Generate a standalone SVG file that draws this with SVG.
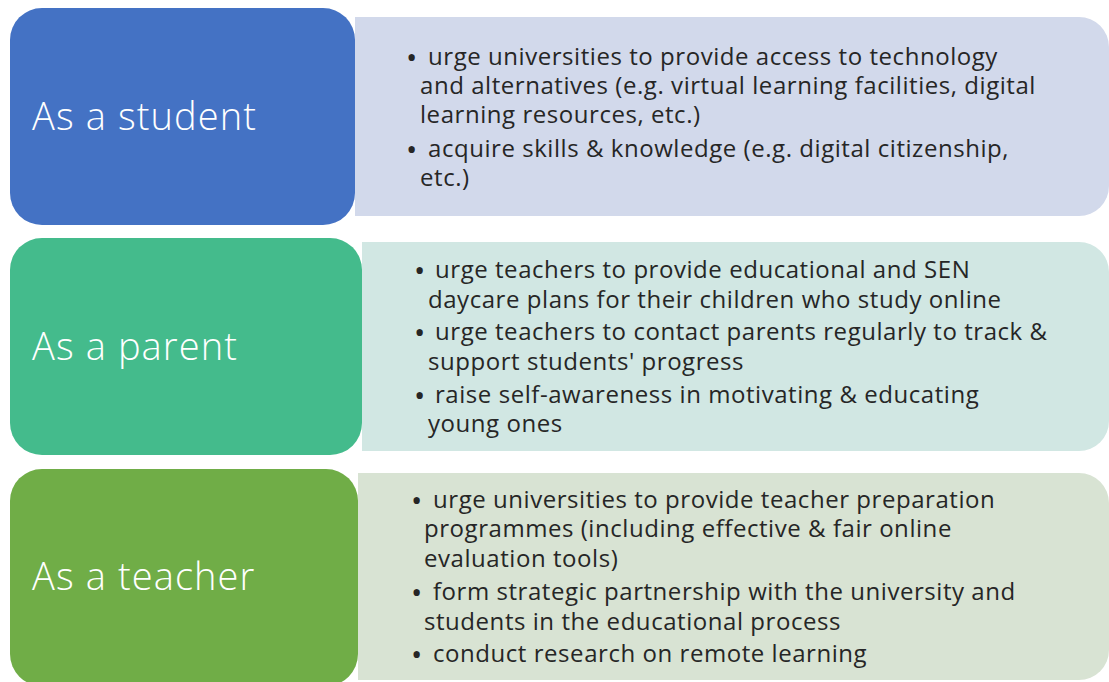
<svg xmlns="http://www.w3.org/2000/svg" width="1109" height="682" viewBox="0 0 1109 682">
<style>
.lbl{font-family:"Open Sans","Liberation Sans",sans-serif;font-weight:300;font-size:38px;letter-spacing:1.1px;fill:#ffffff}
.body{font-family:"Open Sans","Liberation Sans",sans-serif;font-weight:400;font-size:24px;letter-spacing:0.55px;fill:#262626}
.b{font-size:30px;letter-spacing:0}
</style>
<rect width="1109" height="682" fill="#ffffff"/>
<g id="student">
<path d="M355 17 H1079 A30 30 0 0 1 1109 47 V186 A30 30 0 0 1 1079 216 H355 Z" fill="#D2D9EB"/>
<rect x="10" y="8" width="345" height="217" rx="32" fill="#4472C4"/>
<text class="lbl" x="32" y="130">As a student</text>
<text class="body"><tspan class="b" x="406" y="68">•</tspan><tspan x="428" y="65">urge universities to provide access to technology</tspan><tspan x="420" y="94">and alternatives (e.g. virtual learning facilities, digital</tspan><tspan x="420" y="123">learning resources, etc.)</tspan><tspan class="b" x="406" y="160">•</tspan><tspan x="428" y="157">acquire skills &amp; knowledge (e.g. digital citizenship,</tspan><tspan x="420" y="186">etc.)</tspan></text>
</g>
<g id="parent">
<path d="M362 242 H1079 A30 30 0 0 1 1109 272 V421 A30 30 0 0 1 1079 451 H362 Z" fill="#D1E7E3"/>
<rect x="10" y="238" width="352" height="217" rx="32" fill="#44BB8C"/>
<text class="lbl" x="32" y="360">As a parent</text>
<text class="body"><tspan class="b" x="414" y="281">•</tspan><tspan x="435" y="278">urge teachers to provide educational and SEN</tspan><tspan x="428" y="308">daycare plans for their children who study online</tspan><tspan class="b" x="414" y="343">•</tspan><tspan x="435" y="340">urge teachers to contact parents regularly to track &amp;</tspan><tspan x="428" y="370">support students' progress</tspan><tspan class="b" x="414" y="406">•</tspan><tspan x="435" y="403">raise self-awareness in motivating &amp; educating</tspan><tspan x="428" y="432">young ones</tspan></text>
</g>
<g id="teacher">
<path d="M358 473 H1079 A30 30 0 0 1 1109 503 V650 A30 30 0 0 1 1079 680 H358 Z" fill="#D8E3D3"/>
<rect x="10" y="469" width="348" height="217" rx="32" fill="#70AD47"/>
<text class="lbl" x="32" y="590">As a teacher</text>
<text class="body"><tspan class="b" x="411" y="511">•</tspan><tspan x="433" y="508">urge universities to provide teacher preparation</tspan><tspan x="424" y="537">programmes (including effective &amp; fair online</tspan><tspan x="424" y="567">evaluation tools)</tspan><tspan class="b" x="411" y="603">•</tspan><tspan x="433" y="600">form strategic partnership with the university and</tspan><tspan x="424" y="630">students in the educational process</tspan><tspan class="b" x="411" y="665">•</tspan><tspan x="433" y="662">conduct research on remote learning</tspan></text>
</g>
<g id="connectors"></g>
</svg>
